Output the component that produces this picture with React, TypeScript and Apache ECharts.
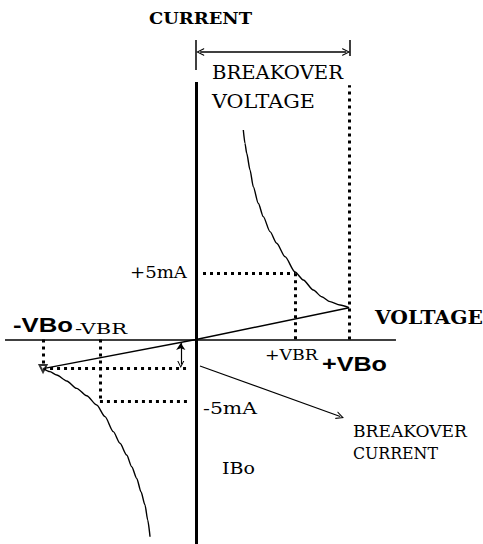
import { useEffect, useRef } from "react";
import * as echarts from "echarts";

// ---- data (voltage in V, current in mA) ----
const VOLT_MIN = -41;
const VOLT_MAX = 60;
const CURR_MIN = -15.45;
const CURR_MAX = 25.65;

const VBO = 32; // breakover voltage
const VBR = 20.7; // +VBR
const NEG_VBR = -20.1;
const I_VBO_POS = 2.4; // current at +VBo
const I_VBO_NEG = -2.2; // current at -VBo
const I_POS_5 = 5;
const I_NEG_5 = -4.7;

const posCurve: number[][] = [
  [9.88, 15.83], [10.23, 14.82], [10.59, 14.07], [11.28, 12.81], [11.97, 11.54],
  [13.01, 10.29], [14.06, 9.28], [15.46, 8.15], [16.86, 7.27], [18.6, 6.26],
  [20.69, 5.1], [22.42, 4.5], [24.52, 3.74], [26.27, 3.23], [28.01, 2.86],
  [30.1, 2.61], [32, 2.4],
];
const negCurve: number[][] = [
  [-32, -2.2], [-30.54, -2.43], [-29.14, -2.68], [-27.05, -3.13], [-24.96, -3.69],
  [-22.87, -4.25], [-20.78, -4.95], [-19.04, -5.83], [-17.31, -6.96], [-15.91, -7.84],
  [-14.51, -8.73], [-13.46, -9.61], [-12.41, -10.49], [-11.52, -11.5], [-10.68, -12.5],
  [-10.11, -13.64], [-9.63, -14.9],
];

const LABELS = [
  "CURRENT", "BREAKOVER", "VOLTAGE", "+5mA", "-VBo", "-VBR", "VOLTAGE",
  "+VBR", "+VBo", "-5mA", "BREAKOVER", "CURRENT", "IBo",
];

// layout of labels (pixels): left, right, vertical centre, font
const LABEL_LAYOUT = [
  { l: 149, r: 252, cy: 18, fam: "DejaVu Serif", size: 17, w: "bold" },
  { l: 212, r: 343, cy: 72.5, fam: "DejaVu Serif", size: 18, w: "normal" },
  { l: 212, r: 315, cy: 102, fam: "DejaVu Serif", size: 18, w: "normal" },
  { l: 130, r: 187, cy: 272.5, fam: "DejaVu Serif", size: 16, w: "normal" },
  { l: 13, r: 73, cy: 325, fam: "Liberation Sans", size: 20, w: "bold" },
  { l: 75, r: 127, cy: 328.5, fam: "DejaVu Serif", size: 14, w: "normal" },
  { l: 375, r: 483, cy: 317.5, fam: "DejaVu Serif", size: 18, w: "bold" },
  { l: 265, r: 318, cy: 355, fam: "DejaVu Serif", size: 14, w: "normal" },
  { l: 322, r: 387, cy: 364, fam: "Liberation Sans", size: 21, w: "bold" },
  { l: 203, r: 257, cy: 408.5, fam: "DejaVu Serif", size: 16, w: "normal" },
  { l: 353, r: 467, cy: 431.5, fam: "DejaVu Serif", size: 16, w: "normal" },
  { l: 353, r: 438, cy: 453.5, fam: "DejaVu Serif", size: 16, w: "normal" },
  { l: 222, r: 255, cy: 468.5, fam: "DejaVu Serif", size: 16, w: "normal" },
];

const CHEVRON = "path://M5,0 L10,10 L8.4,10 L5,2.8 L1.6,10 L0,10 Z";

function measure(text: string, font: string): number {
  const c = document.createElement("canvas").getContext("2d");
  if (!c) return 1;
  c.font = font;
  return c.measureText(text).width || 1;
}

export default function App() {
  const ref = useRef<HTMLDivElement>(null);
  useEffect(() => {
    if (!ref.current) return;
    const chart = echarts.init(ref.current, undefined, { renderer: "svg" });

    const solid = (coords: number[][][], width: number) => ({
      type: "lines",
      coordinateSystem: "cartesian2d",
      polyline: false,
      silent: true,
      symbol: "none",
      lineStyle: { color: "#000", width, opacity: 1, curveness: 0 },
      data: coords.map((c) => ({ coords: c })),
    });

    const dotted = {
      type: "lines",
      coordinateSystem: "cartesian2d",
      silent: true,
      symbol: "none",
      lineStyle: { color: "#000", width: 3, type: [3, 4], opacity: 1 },
      data: [
        [[VBO, 0], [VBO, 19.2]],
        [[1.45, I_POS_5], [VBR, I_POS_5]],
        [[VBR, I_POS_5], [VBR, 0]],
        [[-VBO, 0], [-VBO, I_VBO_NEG]],
        [[-VBO, I_VBO_NEG], [-1.3, I_VBO_NEG]],
        [[NEG_VBR, 0], [NEG_VBR, I_NEG_5]],
        [[NEG_VBR, I_NEG_5], [-1.3, I_NEG_5]],
      ].map((c) => ({ coords: c })),
    };

    const arrowSeries = (coords: number[][], sym: string[], size: number, width: number) => ({
      type: "lines",
      coordinateSystem: "cartesian2d",
      silent: true,
      symbol: sym,
      symbolSize: size,
      lineStyle: { color: "#000", width, opacity: 1 },
      itemStyle: { color: "#000" },
      data: [{ coords }],
    });

    const curve = (data: number[][]) => ({
      type: "line",
      data,
      smooth: 0.25,
      smoothMonotone: "x",
      showSymbol: false,
      silent: true,
      lineStyle: { color: "#000", width: 1.4 },
    });

    const graphics = LABELS.map((t, i) => {
      const L = LABEL_LAYOUT[i];
      const font = `${L.w} ${L.size}px "${L.fam}"`;
      const sx = (L.r - L.l) / measure(t, font);
      return {
        type: "text",
        x: L.l,
        y: L.cy,
        scaleX: sx,
        silent: true,
        style: {
          text: t,
          font,
          fontFamily: L.fam,
          fontSize: L.size,
          fontWeight: L.w,
          fill: "#000",
          align: "left",
          verticalAlign: "middle",
          textAlign: "left",
          textVerticalAlign: "middle",
        },
      };
    });

    chart.setOption({
      animation: false,
      backgroundColor: "#fff",
      grid: { left: 0, right: 0, top: 0, bottom: 0, containLabel: false },
      xAxis: { type: "value", min: VOLT_MIN, max: VOLT_MAX, show: false },
      yAxis: { type: "value", min: CURR_MIN, max: CURR_MAX, show: false },
      graphic: graphics,
      series: [
        solid([[[0, 19.45], [0, CURR_MIN]]], 3),
        solid(
          [
            [[-39.95, 0], [41.8, 0]],
            [[0, 22.63], [0, 20.36]],
            [[32.2, 22.63], [32.2, 21.42]],
          ],
          1.5
        ),
        solid(
          [
            [[0, 0], [VBO, I_VBO_POS]],
            [[0, 0], [-VBO, I_VBO_NEG]],
          ],
          1.4
        ),
        dotted,
        curve(posCurve),
        curve(negCurve),
        arrowSeries([[0.85, 21.72], [31.4, 21.72]], [CHEVRON, CHEVRON], 8, 1.5),
        arrowSeries([[0.82, -2.0], [30.14, -5.82]], ["none", CHEVRON], 8, 1.2),
        arrowSeries([[-3.2, -0.27], [-3.2, -1.89]], ["arrow", CHEVRON], 7, 1.2),
        {
          type: "scatter",
          data: [[-VBO, I_VBO_NEG]],
          symbol: "emptyTriangle",
          symbolRotate: 180,
          symbolSize: 7,
          silent: true,
          itemStyle: { color: "#000", borderColor: "#000", borderWidth: 1.2 },
        },
      ],
    });
    return () => chart.dispose();
  }, []);
  return (
    <div
      ref={ref}
      style={{ position: "fixed", left: 0, top: 0, width: 483, height: 544, background: "#fff" }}
    />
  );
}
